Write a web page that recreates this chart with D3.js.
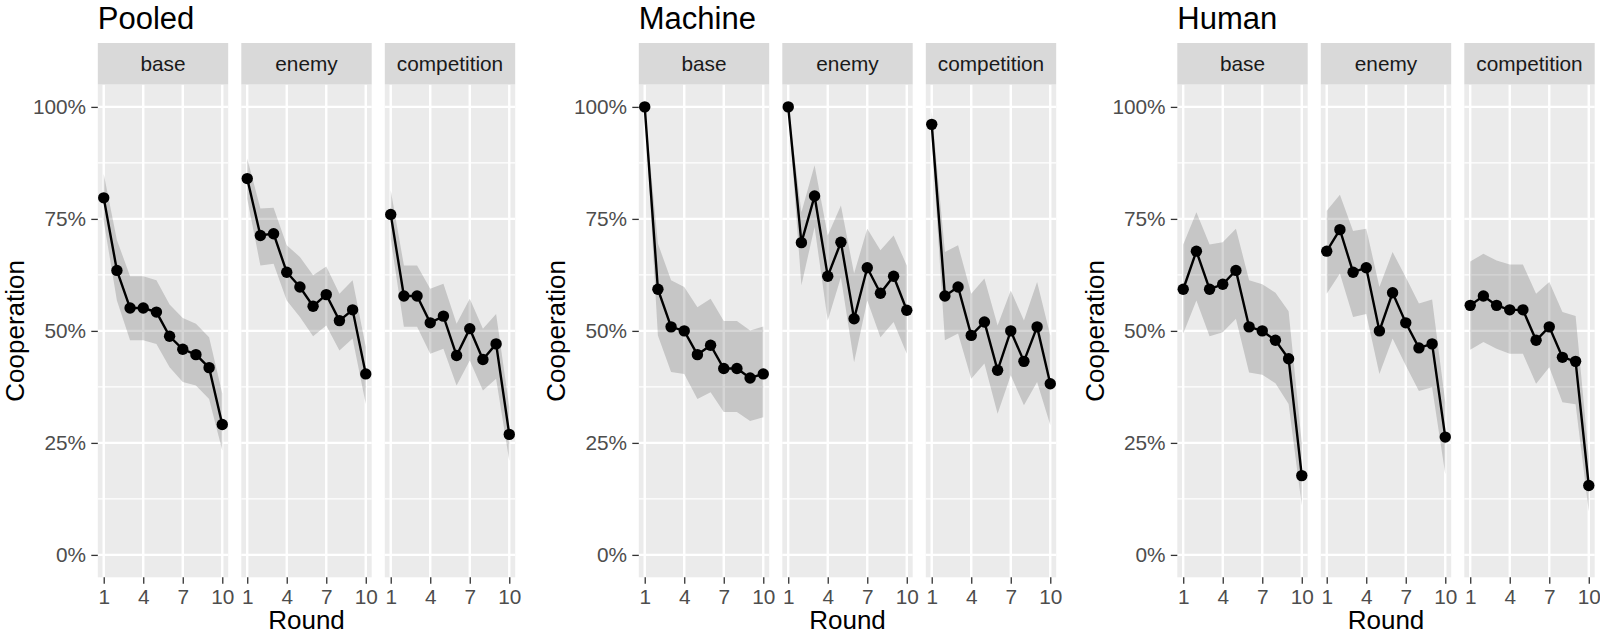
<!DOCTYPE html>
<html>
  <head>
    <meta charset="utf-8">
    <script src="https://d3js.org/d3.v7.min.js"></script>
    <style>
    body {
      margin: 0;
      background: #fff;
    }
    svg text {
      font-family: "Liberation Sans", Arial, sans-serif;
    }
    </style>
  </head>
  <body>
    <svg id="chart" width="1600" height="636"></svg>
    <script>
    // values (share cooperating, per round)
    var rounds = [1, 2, 3, 4, 5, 6, 7, 8, 9, 10];
    var conditions = ["base", "enemy", "competition"];
    var groups = ["Pooled", "Machine", "Human"];
    var yTicks = [0, 0.25, 0.5, 0.75, 1];
    var yMinor = [0.125, 0.375, 0.625, 0.875];
    var xTicks = [1, 4, 7, 10];

    // each array: base, enemy, competition
    var pooledMean = [
      [0.797, 0.635, 0.551, 0.551, 0.542, 0.488, 0.459, 0.447, 0.418, 0.291],
      [0.840, 0.713, 0.717, 0.631, 0.598, 0.555, 0.581, 0.523, 0.547, 0.404],
      [0.760, 0.578, 0.578, 0.518, 0.533, 0.445, 0.505, 0.436, 0.471, 0.269]
    ];
    var pooledLow = [
      [0.745, 0.568, 0.479, 0.479, 0.471, 0.419, 0.386, 0.378, 0.348, 0.233],
      [0.795, 0.646, 0.650, 0.568, 0.531, 0.488, 0.512, 0.456, 0.483, 0.337],
      [0.705, 0.509, 0.509, 0.449, 0.460, 0.378, 0.434, 0.367, 0.393, 0.210]
    ];
    var pooledHigh = [
      [0.850, 0.703, 0.622, 0.622, 0.613, 0.559, 0.529, 0.516, 0.486, 0.360],
      [0.885, 0.773, 0.775, 0.691, 0.665, 0.624, 0.644, 0.583, 0.613, 0.464],
      [0.814, 0.646, 0.646, 0.594, 0.605, 0.516, 0.572, 0.505, 0.538, 0.330]
    ];

    var machineMean = [
      [1.000, 0.593, 0.509, 0.500, 0.447, 0.468, 0.416, 0.416, 0.395, 0.404],
      [1.000, 0.697, 0.801, 0.622, 0.698, 0.527, 0.641, 0.584, 0.622, 0.546],
      [0.961, 0.578, 0.598, 0.490, 0.520, 0.412, 0.500, 0.432, 0.509, 0.382]
    ];
    var machineLow = [
      [1.000, 0.490, 0.408, 0.404, 0.348, 0.363, 0.319, 0.319, 0.299, 0.307],
      [1.000, 0.602, 0.732, 0.523, 0.620, 0.430, 0.568, 0.486, 0.520, 0.449],
      [0.930, 0.479, 0.494, 0.393, 0.427, 0.315, 0.401, 0.334, 0.386, 0.290]
    ];
    var machineHigh = [
      [1.000, 0.695, 0.613, 0.598, 0.553, 0.572, 0.522, 0.522, 0.501, 0.510],
      [1.000, 0.765, 0.870, 0.713, 0.780, 0.628, 0.728, 0.680, 0.713, 0.646],
      [0.990, 0.676, 0.691, 0.583, 0.617, 0.512, 0.590, 0.523, 0.609, 0.490]
    ];

    var humanMean = [
      [0.593, 0.678, 0.593, 0.604, 0.635, 0.509, 0.500, 0.479, 0.438, 0.177],
      [0.678, 0.726, 0.631, 0.641, 0.500, 0.585, 0.518, 0.462, 0.471, 0.263],
      [0.557, 0.578, 0.557, 0.547, 0.547, 0.479, 0.509, 0.441, 0.432, 0.155]
    ];
    var humanLow = [
      [0.494, 0.568, 0.488, 0.497, 0.527, 0.407, 0.402, 0.383, 0.337, 0.110],
      [0.583, 0.628, 0.531, 0.538, 0.404, 0.483, 0.423, 0.366, 0.374, 0.180],
      [0.458, 0.475, 0.460, 0.449, 0.449, 0.382, 0.419, 0.341, 0.336, 0.097]
    ];
    var humanHigh = [
      [0.693, 0.765, 0.693, 0.698, 0.728, 0.613, 0.604, 0.585, 0.544, 0.250],
      [0.768, 0.804, 0.723, 0.728, 0.598, 0.676, 0.620, 0.561, 0.570, 0.340],
      [0.655, 0.672, 0.657, 0.648, 0.648, 0.583, 0.609, 0.542, 0.533, 0.220]
    ];

    var means = [pooledMean, machineMean, humanMean];
    var lows = [pooledLow, machineLow, humanLow];
    var highs = [pooledHigh, machineHigh, humanHigh];

    // layout
    var groupX = [0, 541, 1079.5];
    var panelLeft0 = 97.8, panelW = 130.4, panelStep = 143.5;
    var stripTop = 43, panelTop = 84.5, panelBottom = 577.3;

    var x = d3.scaleLinear().domain([0.55, 10.45]).range([0, panelW]);
    var y = d3.scaleLinear().domain([-0.05, 1.05]).range([panelBottom, panelTop]);

    var svg = d3.select("#chart");

    function styleAxis(g) {
      g.attr("font-family", null).attr("font-size", null);
      g.select(".domain").remove();
      g.selectAll(".tick line").attr("stroke", "#333333").attr("stroke-width", 1.3);
      g.selectAll(".tick text")
        .attr("fill", "#4D4D4D")
        .style("font-size", "20.8px");
    }

    groups.forEach(function (name, gi) {
      var gx = groupX[gi];
      var grp = svg.append("g").attr("transform", "translate(" + gx + ",0)");

      grp.append("text")
        .attr("x", panelLeft0)
        .attr("y", 29)
        .style("font-size", "31px")
        .attr("fill", "#000")
        .text(name);

      conditions.forEach(function (cond, ci) {
        var px = panelLeft0 + ci * panelStep;
        var p = grp.append("g").attr("transform", "translate(" + px + ",0)");

        p.append("rect")
          .attr("x", 0).attr("y", panelTop)
          .attr("width", panelW).attr("height", panelBottom - panelTop)
          .attr("fill", "#EBEBEB");

        p.selectAll(".minor").data(yMinor).enter().append("line")
          .attr("x1", 0).attr("x2", panelW)
          .attr("y1", function (d) { return y(d); })
          .attr("y2", function (d) { return y(d); })
          .attr("stroke", "#fff").attr("stroke-width", 1.2);

        p.selectAll(".majory").data(yTicks).enter().append("line")
          .attr("x1", 0).attr("x2", panelW)
          .attr("y1", function (d) { return y(d); })
          .attr("y2", function (d) { return y(d); })
          .attr("stroke", "#fff").attr("stroke-width", 2.4);

        p.selectAll(".majorx").data(xTicks).enter().append("line")
          .attr("y1", panelTop).attr("y2", panelBottom)
          .attr("x1", function (d) { return x(d); })
          .attr("x2", function (d) { return x(d); })
          .attr("stroke", "#fff").attr("stroke-width", 2.4);

        var rows = rounds.map(function (r, i) {
          return {
            r: r,
            m: means[gi][ci][i],
            lo: lows[gi][ci][i],
            hi: highs[gi][ci][i]
          };
        });

        var area = d3.area()
          .x(function (d) { return x(d.r); })
          .y0(function (d) { return y(d.lo); })
          .y1(function (d) { return y(d.hi); });

        p.append("path")
          .datum(rows)
          .attr("d", area)
          .attr("fill", "#333333")
          .attr("fill-opacity", 0.2);

        var line = d3.line()
          .x(function (d) { return x(d.r); })
          .y(function (d) { return y(d.m); });

        p.append("path")
          .datum(rows)
          .attr("d", line)
          .attr("fill", "none")
          .attr("stroke", "#000")
          .attr("stroke-width", 2.4);

        p.selectAll(".pt").data(rows).enter().append("circle")
          .attr("cx", function (d) { return x(d.r); })
          .attr("cy", function (d) { return y(d.m); })
          .attr("r", 5.7)
          .attr("fill", "#000");

        // strip
        p.append("rect")
          .attr("x", 0).attr("y", stripTop)
          .attr("width", panelW).attr("height", panelTop - stripTop)
          .attr("fill", "#D9D9D9");
        p.append("text")
          .attr("x", panelW / 2)
          .attr("y", (stripTop + panelTop) / 2)
          .attr("dy", "0.36em")
          .attr("text-anchor", "middle")
          .attr("fill", "#1A1A1A")
          .style("font-size", "20.8px")
          .text(cond);

        var xa = p.append("g")
          .attr("transform", "translate(0," + panelBottom + ")")
          .call(d3.axisBottom(x).tickValues(xTicks).tickSize(6.5).tickPadding(5.2));
        styleAxis(xa);

        if (ci === 0) {
          var ya = p.append("g")
            .call(d3.axisLeft(y).tickValues(yTicks).tickFormat(d3.format(".0%"))
              .tickSize(6.5).tickPadding(5.2));
          styleAxis(ya);
        }
      });

      grp.append("text")
        .attr("x", panelLeft0 + (2 * panelStep + panelW) / 2)
        .attr("y", 629)
        .attr("text-anchor", "middle")
        .style("font-size", "26px")
        .attr("fill", "#000")
        .text("Round");

      grp.append("text")
        .attr("transform", "translate(24," + (panelTop + panelBottom) / 2 + ") rotate(-90)")
        .attr("text-anchor", "middle")
        .style("font-size", "26px")
        .attr("fill", "#000")
        .text("Cooperation");
    });
  </script>
  </body>
</html>
